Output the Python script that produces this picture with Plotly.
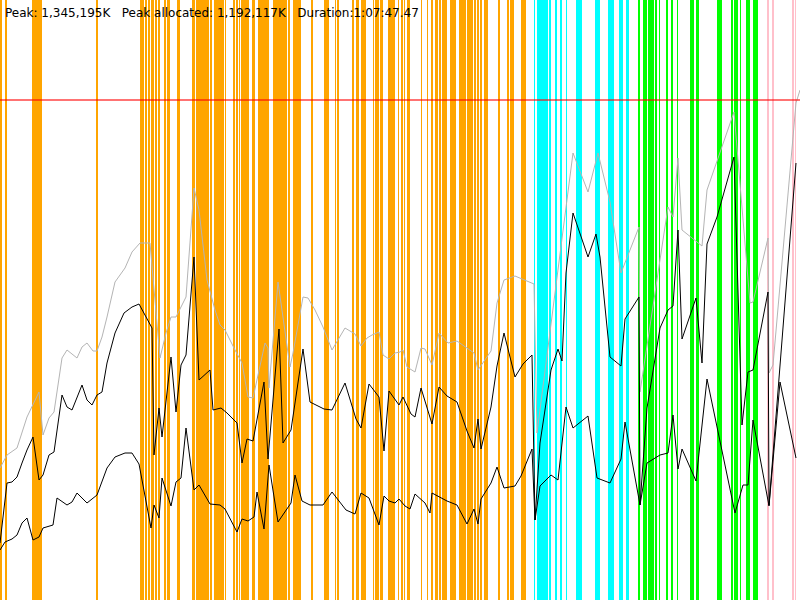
import plotly.graph_objects as go

# elapsed time runs 0..800 across the run, heap sizes are scaled so the peak line sits at 500
title_text = "Peak: 1,345,195K\u00a0\u00a0\u00a0Peak allocated: 1,192,117K\u00a0\u00a0\u00a0Duration:1:07:47.47"
peak_level = 500

# committed heap (grey)
t_committed = [0, 7, 17, 27, 39, 43, 49, 54, 62, 67, 77, 82, 87, 93, 97, 102, 107, 115, 125, 132,
               140, 150, 160, 166, 171, 176, 181, 186, 194, 199, 207, 215, 220, 225, 235, 242, 248, 253, 265, 268,
               269, 278, 290, 293, 303, 308, 315, 323, 332, 345, 355, 361, 367, 372, 379, 383, 389, 395, 400, 403,
               407, 415, 421, 425, 432, 439, 448, 457, 474, 478, 491, 497, 504, 515, 534, 537, 573, 588, 598, 610,
               621, 639, 640, 668, 673, 678, 682, 702, 707, 734, 750, 753, 768, 769, 773, 796, 800]
committed = [132, 145, 152, 183, 208, 165, 182, 188, 242, 250, 242, 253, 257, 249, 249, 263, 283, 318, 332, 348,
             357, 357, 242, 267, 283, 283, 293, 303, 412, 390, 320, 290, 275, 270, 250, 237, 203, 202, 257, 252,
             212, 318, 233, 247, 303, 302, 290, 273, 250, 272, 266, 254, 262, 265, 268, 245, 241, 247, 248, 250,
             233, 228, 252, 251, 235, 267, 257, 259, 247, 230, 249, 297, 320, 324, 316, 167, 447, 408, 447, 398,
             327, 373, 208, 393, 383, 442, 370, 354, 410, 488, 297, 298, 362, 227, 235, 497, 510]

# heap in use before collection (upper black)
t_before = [0, 7, 12, 17, 22, 27, 33, 39, 43, 49, 54, 62, 67, 72, 82, 87, 92, 97, 102, 107,
            115, 124, 132, 139, 152, 154, 159, 162, 171, 176, 181, 186, 194, 199, 210, 213, 221, 227, 237, 242,
            247, 253, 264, 268, 279, 283, 291, 303, 310, 324, 332, 345, 356, 361, 369, 379, 384, 389, 399, 403,
            411, 415, 421, 427, 432, 439, 447, 457, 467, 474, 478, 481, 491, 497, 504, 515, 523, 532, 535, 540,
            551, 558, 562, 566, 573, 588, 596, 600, 610, 621, 625, 639, 640, 647, 660, 668, 673, 678, 682, 696,
            702, 707, 717, 734, 742, 748, 753, 768, 769, 796]
used_before = [57, 117, 118, 123, 137, 150, 163, 120, 125, 145, 148, 205, 193, 190, 215, 200, 195, 205, 208, 237,
               267, 287, 293, 296, 272, 145, 192, 163, 243, 188, 235, 245, 343, 220, 230, 190, 192, 187, 177, 137,
               161, 159, 218, 141, 271, 157, 170, 251, 198, 191, 190, 217, 181, 172, 216, 203, 149, 209, 195, 203,
               186, 183, 212, 193, 176, 213, 204, 198, 169, 152, 181, 151, 193, 234, 267, 223, 236, 245, 80, 157,
               230, 251, 239, 327, 387, 343, 366, 343, 243, 234, 281, 303, 95, 192, 272, 290, 294, 370, 261, 302,
               237, 356, 383, 443, 175, 228, 230, 308, 95, 437]

# heap in use after collection (lower black)
t_after = [0, 5, 12, 17, 22, 27, 33, 39, 43, 53, 57, 67, 72, 77, 87, 97, 107, 115, 125, 132,
           139, 151, 154, 159, 162, 171, 176, 181, 186, 194, 199, 210, 220, 225, 237, 242, 248, 254, 257, 264,
           269, 278, 291, 295, 302, 310, 323, 332, 346, 355, 361, 369, 379, 384, 389, 395, 399, 405, 410, 415,
           425, 430, 432, 439, 447, 457, 467, 474, 478, 481, 491, 497, 504, 515, 521, 532, 535, 540, 551, 558,
           566, 573, 588, 597, 610, 621, 625, 640, 647, 660, 668, 673, 678, 682, 696, 707, 735, 743, 748, 753,
           769, 780, 796]
used_after = [50, 58, 61, 65, 77, 82, 60, 63, 72, 75, 102, 95, 98, 107, 97, 105, 132, 143, 147, 147,
              136, 72, 95, 82, 122, 94, 118, 122, 172, 110, 115, 96, 95, 91, 68, 81, 79, 83, 108, 71,
              135, 78, 97, 125, 99, 95, 95, 108, 90, 86, 107, 102, 75, 104, 99, 97, 101, 94, 91, 106,
              97, 87, 107, 103, 99, 95, 76, 91, 76, 101, 117, 133, 112, 114, 124, 151, 80, 114, 125, 120,
              193, 172, 184, 122, 117, 141, 178, 95, 137, 145, 147, 185, 131, 151, 119, 221, 87, 115, 115, 180,
              94, 218, 142]

# collection periods (start, end)
gc_orange = [(0, 2), (5, 7), (32, 42), (96, 98), (140, 144), (145, 147), (148, 150), (151, 154), (155, 157),
             (158, 160), (164, 166), (167, 170), (177, 180), (192, 195), (196, 209), (210, 212), (214, 224),
             (225, 226), (233, 235), (236, 238), (239, 240), (241, 249), (252, 255), (258, 269), (273, 287),
             (288, 290), (293, 301), (311, 313), (324, 329), (335, 336), (337, 339), (352, 354), (356, 359),
             (361, 366), (373, 374), (375, 379), (380, 383), (388, 395), (398, 399), (401, 403), (404, 405),
             (407, 410), (421, 422), (427, 428), (431, 433), (435, 438), (439, 441), (442, 447), (450, 456),
             (459, 466), (467, 473), (474, 476), (477, 479), (480, 482), (484, 488), (498, 500), (507, 509),
             (510, 514), (521, 526)]
gc_cyan = [(534, 535), (537, 548), (549, 551), (555, 557), (560, 562), (566, 567), (576, 582), (595, 599.5),
           (608, 614), (619, 623), (626, 629)]
gc_green = [(638, 640), (643, 647), (648, 654), (655, 657), (659, 660), (666, 668), (671, 673), (677, 678),
            (690, 694), (696, 699), (717, 722), (731, 733), (734, 738), (740, 741), (746, 750), (753, 758)]
gc_pink = [(767, 769), (772, 774), (792, 794), (795, 796)]

fig = go.Figure()

for spans, colour in [(gc_orange, "#ffa500"), (gc_cyan, "#00ffff"), (gc_green, "#00ff00"), (gc_pink, "#ffc0cb")]:
    fig.add_trace(go.Bar(
        x=[(a + b) / 2 for a, b in spans],
        y=[600] * len(spans),
        width=[b - a for a, b in spans],
        marker=dict(color=colour, line=dict(width=0)),
        hoverinfo="skip",
    ))

fig.add_trace(go.Scatter(x=t_committed, y=committed, mode="lines",
                         line=dict(color="#b4b4b4", width=1)))
fig.add_trace(go.Scatter(x=t_before, y=used_before, mode="lines",
                         line=dict(color="black", width=1)))
fig.add_trace(go.Scatter(x=t_after, y=used_after, mode="lines",
                         line=dict(color="black", width=1)))

fig.add_shape(type="line", xref="paper", x0=0, x1=1, yref="y", y0=peak_level, y1=peak_level,
              line=dict(color="rgba(255,0,0,0.55)", width=2))

fig.add_annotation(text=title_text, xref="paper", yref="paper", x=0.004, y=0.998, yshift=-3,
                   xanchor="left", yanchor="top", showarrow=False,
                   font=dict(family="DejaVu Sans", size=12, color="black"))

fig.update_layout(
    width=800, height=600,
    margin=dict(l=0, r=0, t=0, b=0),
    paper_bgcolor="white", plot_bgcolor="white",
    showlegend=False, barmode="overlay", bargap=0,
    xaxis=dict(range=[0, 800], visible=False, fixedrange=True),
    yaxis=dict(range=[0, 600], visible=False, fixedrange=True),
)

# page body has a default 8px margin; drop it so the chart fills the window
fig.write_html("out.html", config={"displayModeBar": False},
               post_script="document.body.style.margin='0';document.body.style.overflow='hidden';")
